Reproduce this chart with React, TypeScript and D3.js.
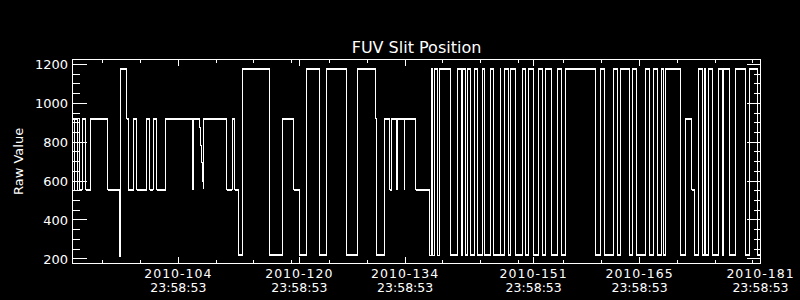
import React from 'react';
import * as d3 from 'd3';

// Time axis: days since 2010-090 23:58:53
const startLabel = '2010-090 23:58:53';
const domainDays = [0, 91];

// Step signal: day offsets (since start) and raw values
const stepDays = [
  0.00, 0.22, 0.26, 0.66, 0.70, 0.89, 1.32, 1.77, 2.43, 4.63,
  6.22, 6.36, 7.20, 7.40, 8.07, 8.52, 9.82, 10.19, 10.70, 11.17,
  12.36, 15.93, 16.03, 16.80, 16.94, 17.07, 17.20, 17.30, 17.34, 20.43,
  21.11, 21.46, 21.96, 22.48, 26.07, 27.71, 29.24, 30.09, 30.92, 32.68,
  33.61, 36.25, 37.71, 40.09, 40.18, 41.28, 41.94, 42.21, 42.90, 42.98,
  43.89, 43.93, 45.41, 47.24, 47.42, 47.68, 47.86, 48.29, 48.48, 49.97,
  50.94, 51.39, 51.56, 51.92, 52.18, 52.62, 53.15, 53.59, 54.21, 54.56,
  55.27, 55.62, 56.59, 56.63, 57.16, 57.65, 57.91, 58.61, 59.54, 59.94,
  60.33, 61.00, 61.62, 62.19, 62.58, 63.38, 64.17, 64.62, 65.23, 69.22,
  69.85, 70.42, 71.58, 72.06, 72.51, 73.62, 74.09, 74.58, 75.81, 76.34,
  76.87, 77.32, 77.96, 78.22, 78.49, 80.47, 81.11, 81.90, 82.26, 82.83,
  83.28, 83.65, 83.69, 84.15, 84.60, 85.50, 86.00, 86.04, 86.94, 87.72,
  88.97, 89.49, 90.55, 91.00,
];
const stepValues = [
  920, 555, 920, 555, 920, 555, 920, 555, 920, 555,
  214, 1178, 920, 555, 920, 555, 920, 555, 920, 555,
  920, 555, 920, 878, 784, 695, 598, 560, 920, 555,
  920, 555, 219, 1178, 219, 920, 555, 219, 1178, 219,
  1178, 219, 1178, 920, 219, 920, 555, 920, 555, 920,
  555, 920, 555, 219, 1178, 219, 1178, 219, 1178, 219,
  1178, 219, 1178, 219, 1178, 219, 1178, 219, 1178, 219,
  1178, 219, 1178, 219, 1178, 219, 1178, 219, 1178, 219,
  1178, 219, 1178, 219, 1178, 219, 1178, 219, 1178, 219,
  1178, 219, 1178, 219, 1178, 219, 1178, 219, 1178, 219,
  1178, 219, 1178, 219, 1178, 219, 920, 555, 219, 1178,
  219, 1178, 219, 1178, 219, 1178, 219, 1178, 219, 1178,
  219, 1178, 219, 219,
];

const yDomain = [176, 1226];
const yMajorTicks = [200, 400, 600, 800, 1000, 1200];
const xMajorTickDays = [14, 30, 44, 61, 75, 91];
const xMajorDateLabels = ['2010-104', '2010-120', '2010-134', '2010-151', '2010-165', '2010-181'];
const xMajorTimeLabels = ['23:58:53', '23:58:53', '23:58:53', '23:58:53', '23:58:53', '23:58:53'];
const xMinorTickDays = [4, 9, 14, 19, 24, 29, 34, 39, 44, 49, 54, 59, 65, 70, 75, 80, 85, 90];

const titleText = 'FUV Slit Position';
const yLabelText = 'Raw Value';

export default function App() {
  const W = 800, H = 300;
  const L = 72.5, R = 760.5, T = 59.5, B = 263.5;
  const x = d3.scaleLinear().domain(domainDays).range([L, R]);
  const y = d3.scaleLinear().domain(yDomain).range([B, T]);

  const pts: [number, number][] = stepDays.map((d, i) => [d, stepValues[i]]);
  const line = d3
    .line<[number, number]>()
    .x((d) => x(d[0]))
    .y((d) => y(d[1]))
    .curve(d3.curveStepAfter);

  const bands: string[] = [];
  for (let i = 0; i < pts.length - 1; i++) {
    const x1 = x(pts[i][0]);
    const x2 = x(pts[i + 1][0]);
    const yy = y(pts[i][1]);
    if (x2 - x1 > 1.5) bands.push(`M${x1},${yy}H${x2}`);
  }

  const yMinor = d3.range(200, 1201, 50).filter((v) => !yMajorTicks.includes(v));
  const font = "'DejaVu Sans', sans-serif";

  return (
    <svg
      width={W}
      height={H}
      style={{ position: 'absolute', left: 0, top: 0, display: 'block' }}
      data-start={startLabel}
    >
      <rect x={0} y={0} width={W} height={H} fill="#000" />
      <g stroke="#fff" fill="none" shapeRendering="crispEdges">
        <rect x={L} y={T} width={R - L} height={B - T} strokeWidth={1} />
        {yMajorTicks.map((v) => (
          <g key={'ym' + v}>
            <line x1={L} x2={L + 14} y1={y(v)} y2={y(v)} />
            <line x1={R} x2={R - 14} y1={y(v)} y2={y(v)} />
          </g>
        ))}
        {yMinor.map((v) => (
          <g key={'yn' + v}>
            <line x1={L} x2={L + 7} y1={y(v)} y2={y(v)} />
            <line x1={R} x2={R - 7} y1={y(v)} y2={y(v)} />
          </g>
        ))}
        {xMinorTickDays.map((d) => (
          <g key={'xn' + d}>
            <line x1={x(d)} x2={x(d)} y1={B} y2={B - 3.5} />
            <line x1={x(d)} x2={x(d)} y1={T} y2={T + 3.5} />
          </g>
        ))}
        {xMajorTickDays.map((d) => (
          <g key={'xm' + d}>
            <line x1={x(d)} x2={x(d)} y1={B} y2={B - 6.5} />
            <line x1={x(d)} x2={x(d)} y1={T} y2={T + 6.5} />
          </g>
        ))}
        <path d={line(pts) || ''} strokeWidth={1} />
        {bands.map((p, i) => (
          <path key={'b' + i} d={p} strokeWidth={2} />
        ))}
      </g>
      <g fill="#fff" fontFamily={font}>
        <text x={416.5} y={52.7} fontSize={16} textAnchor="middle">
          {titleText}
        </text>
        <text transform="translate(23.3,161.4) rotate(-90)" fontSize={13} textAnchor="middle">
          {yLabelText}
        </text>
        {yMajorTicks.map((v) => (
          <text key={'yl' + v} x={68} y={y(v) + 4.7} fontSize={13} textAnchor="end">
            {v}
          </text>
        ))}
        {xMajorTickDays.map((d, i) => (
          <g key={'xl' + d}>
            <text x={x(d)} y={278} fontSize={12.5} textAnchor="middle" letterSpacing={1}>
              {xMajorDateLabels[i]}
            </text>
            <text x={x(d)} y={292} fontSize={12.5} textAnchor="middle">
              {xMajorTimeLabels[i]}
            </text>
          </g>
        ))}
      </g>
    </svg>
  );
}
